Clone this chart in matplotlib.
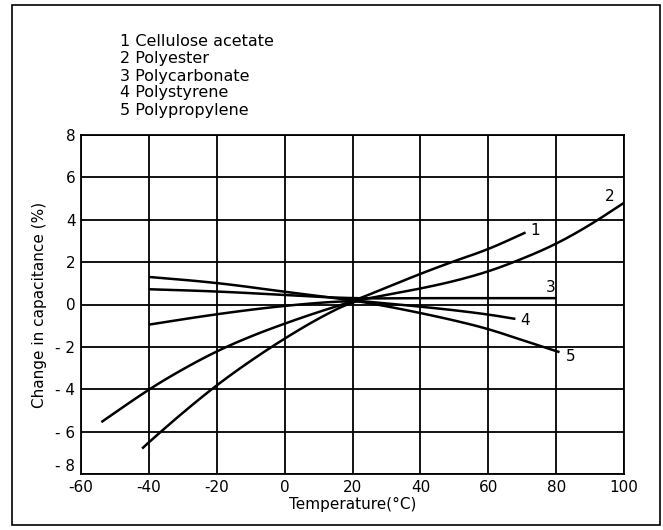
import numpy as np
import matplotlib
matplotlib.use("Agg")
import matplotlib.pyplot as plt
from matplotlib.patches import Rectangle

# curve data (temperature in degC, change in %)
t1 = [-54, -40, -30, -20, -10, 0, 10, 20, 30, 40, 50, 60, 71]
c1 = [-5.55, -4.0, -3.05, -2.2, -1.5, -0.9, -0.35, 0.15, 0.8, 1.45, 2.05, 2.6, 3.4]

t2 = [-42, -40, -30, -20, -10, 0, 10, 20, 30, 40, 50, 60, 70, 80, 90, 100]
c2 = [-6.8, -6.5, -5.1, -3.8, -2.65, -1.6, -0.65, 0.15, 0.45, 0.75, 1.1, 1.55, 2.15, 2.85, 3.75, 4.8]

t3 = [-40, -20, 0, 20, 40, 60, 80]
c3 = [0.72, 0.62, 0.45, 0.28, 0.3, 0.3, 0.3]

t4 = [-40, -20, 0, 20, 30, 40, 50, 60, 68]
c4 = [-0.95, -0.45, -0.05, 0.2, 0.05, -0.1, -0.27, -0.47, -0.68]

t5 = [-40, -20, 0, 20, 30, 40, 50, 60, 70, 81]
c5 = [1.3, 1.03, 0.6, 0.2, -0.08, -0.4, -0.75, -1.15, -1.68, -2.25]

legend_lines = ["1 Cellulose acetate", "2 Polyester", "3 Polycarbonate",
                "4 Polystyrene", "5 Polypropylene"]
curve_ids = ["1", "2", "3", "4", "5"]
label_pos = [(72.5, 3.5), (94.5, 5.1), (77, 0.78), (69.5, -0.75), (83, -2.45)]

xticks = [-60, -40, -20, 0, 20, 40, 60, 80, 100]
yticks = [8, 6, 4, 2, 0, -2, -4, -6, -8]
ytick_labels = ["8", "6", "4", "2", "0", "- 2", "- 4", "- 6", "- 8"]


def chaikin(x, y, n=3):
    # corner cutting so the hand-read polylines look like smooth curves
    pts = np.column_stack([x, y]).astype(float)
    for _ in range(n):
        q = 0.75 * pts[:-1] + 0.25 * pts[1:]
        r = 0.25 * pts[:-1] + 0.75 * pts[1:]
        mid = np.empty((2 * len(q), 2))
        mid[0::2] = q
        mid[1::2] = r
        pts = np.vstack([pts[:1], mid, pts[-1:]])
    return pts[:, 0], pts[:, 1]


plt.rcParams['font.family'] = ['DejaVu Sans']

fig = plt.figure(figsize=(6.63, 5.30), dpi=100)
ax = fig.add_axes([81/663, 56/530, 543/663, 339/530])

for t, c in [(t1, c1), (t2, c2), (t3, c3), (t4, c4), (t5, c5)]:
    xs, ys = chaikin(t, c)
    ax.plot(xs, ys, color="black", lw=1.8, solid_capstyle="butt")

for cid, (x, y) in zip(curve_ids, label_pos):
    ax.text(x, y, cid, fontsize=11, ha="left", va="center")

ax.set_xlim(-60, 100)
ax.set_ylim(-8, 8)
ax.set_xticks(xticks)
ax.set_yticks(yticks)
ax.set_xticklabels([str(v) for v in xticks], fontsize=11)
ax.set_yticklabels(ytick_labels, fontsize=11)
for lab in ax.get_yticklabels():
    if lab.get_text() == "- 8":
        lab.set_va("bottom")
ax.tick_params(length=0, pad=4)
ax.grid(True, color="black", lw=1.3)
ax.set_axisbelow(True)
for s in ax.spines.values():
    s.set_linewidth(1.3)

ax.set_xlabel("Temperature(°C)", fontsize=11, labelpad=2)
ax.set_ylabel("Change in capacitance (%)", fontsize=11, labelpad=6)

# legend text block at the top
for i, line in enumerate(legend_lines):
    fig.text(120/663, 1 - (42 + 17 * i) / 530, line, fontsize=11.5, va="center", ha="left")

# outer frame
fig.patches.append(Rectangle((12/663, 5/530), 648/663, 520/530, transform=fig.transFigure,
                             fill=False, edgecolor="black", lw=1.2))

fig.savefig("out.png", dpi=100)
